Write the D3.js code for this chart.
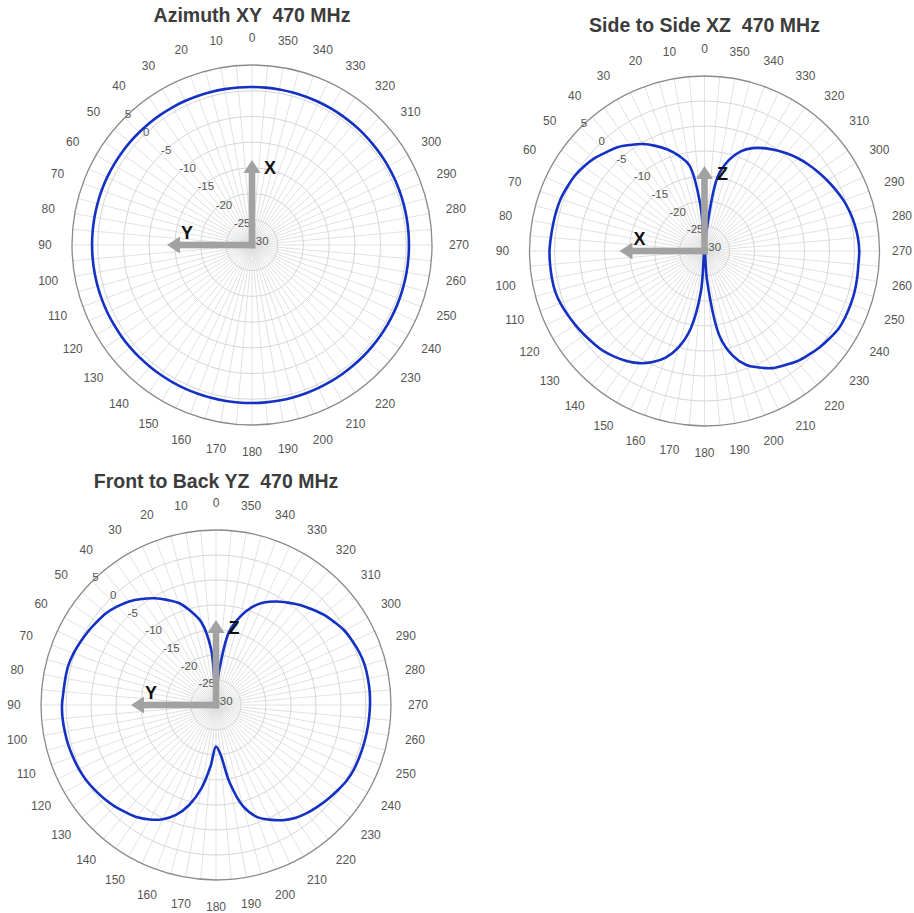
<!DOCTYPE html>
<html>
<head>
<meta charset="utf-8">
<script src="https://cdn.jsdelivr.net/npm/d3@7/dist/d3.min.js"></script>
<style>
  html, body { margin: 0; padding: 0; background: #ffffff; }
  svg { display: block; }
</style>
</head>
<body>
<svg id="chart" width="914" height="913"></svg>
<script>
// Sample directions (degrees, counter-clockwise from the top) of the measured patterns
const sampleAngles = [
  0, 5, 10, 15, 20, 25, 30, 35, 40, 45, 50, 55, 60, 65, 70, 75, 80, 85,
  90, 95, 100, 105, 110, 115, 120, 125, 130, 135, 140, 145, 150, 155, 160, 165, 170, 175,
  180, 185, 190, 195, 200, 205, 210, 215, 220, 225, 230, 235, 240, 245, 250, 255, 260, 265,
  270, 275, 280, 285, 290, 295, 300, 305, 310, 315, 320, 325, 330, 335, 340, 345, 350, 355
];

// Angle tick labels around each plot
const degreeTicks = [
  0, 10, 20, 30, 40, 50, 60, 70, 80, 90, 100, 110, 120, 130, 140, 150, 160, 170,
  180, 190, 200, 210, 220, 230, 240, 250, 260, 270, 280, 290, 300, 310, 320, 330, 340, 350
];

// Gain rings (dBi)
const ringTicks = [-30, -25, -20, -15, -10, -5, 0, 5];

// Gain (dBi) at 470 MHz, one value per sample angle
const azimuthXY = [
  0.72, 0.75, 0.78, 0.82, 0.85, 0.89, 0.92, 0.95, 0.98, 1.00, 1.03, 1.05, 1.07, 1.09, 1.10, 1.10, 1.10, 1.10,
  1.10, 1.09, 1.08, 1.07, 1.05, 1.03, 1.00, 0.98, 0.95, 0.92, 0.88, 0.85, 0.82, 0.80, 0.77, 0.75, 0.74, 0.73,
  0.72, 0.71, 0.70, 0.69, 0.67, 0.66, 0.64, 0.62, 0.60, 0.59, 0.57, 0.56, 0.55, 0.54, 0.53, 0.52, 0.52, 0.52,
  0.52, 0.52, 0.53, 0.54, 0.55, 0.56, 0.57, 0.59, 0.60, 0.62, 0.63, 0.65, 0.66, 0.67, 0.68, 0.69, 0.70, 0.71
];

const sideXZ = [
  -30, -21, -12.6, -10.3, -8.4, -6.8, -5.3, -4.1, -2.9, -2.1, -1.2, -0.55, 0.0, 0.3, 0.6, 0.7, 0.75, 0.85,
  1.0, 1.0, 1.0, 0.95, 0.65, 0.2, -0.25, -0.7, -1.15, -1.6, -2.3, -3.1, -4.1, -5.5, -7.3, -10.1, -14.3, -22,
  -30, -24, -12.8, -8.4, -5.8, -4.3, -2.95, -2.1, -1.2, -0.6, 0.0, 0.5, 1.0, 1.1, 1.12, 1.1, 1.0, 0.9,
  0.95, 0.8, 0.5, 0.1, -0.4, -1.05, -1.7, -2.35, -3.0, -3.7, -4.5, -5.35, -6.25, -7.3, -8.8, -11.2, -15.0, -27
];

const frontYZ = [
  -28, -18.8, -13.2, -10.6, -8.3, -6.8, -5.35, -4.1, -2.95, -2.1, -1.37, -0.95, -0.5, -0.1, 0.3, 0.57, 0.6, 0.62,
  0.8, 0.8, 0.7, 0.6, 0.44, 0.27, 0.02, -0.4, -0.84, -1.35, -1.97, -2.58, -3.56, -4.8, -6.6, -9.3, -13.0, -17.8,
  -21.7, -20.2, -14.2, -9.0, -6.2, -4.7, -3.4, -2.4, -1.75, -1.25, -0.76, -0.28, 0.2, 0.44, 0.5, 0.58, 0.65, 0.72,
  0.8, 0.85, 0.84, 0.8, 0.55, 0.13, -0.3, -1.1, -1.9, -2.9, -3.88, -5.0, -6.1, -7.4, -9.2, -11.85, -15.3, -23.5
];

// Plot placement and the antenna axes drawn in each plot
const panels = [
  { title: "Azimuth XY  470 MHz",       values: azimuthXY, cx: 252,   cy: 245, R: 180, titleY: 21.5, up: "X", left: "Y" },
  { title: "Side to Side XZ  470 MHz",  values: sideXZ,    cx: 704.5, cy: 251, R: 175, titleY: 31.5, up: "Z", left: "X" },
  { title: "Front to Back YZ  470 MHz", values: frontYZ,   cx: 216,   cy: 705, R: 175, titleY: 488,  up: "Z", left: "Y" }
];

const W = 914, H = 913;
const FONT = "'Liberation Sans', Arial, Helvetica, sans-serif";
const svg = d3.select("#chart");
svg.append("rect").attr("width", W).attr("height", H).attr("fill", "#ffffff");

const rad = d => d * Math.PI / 180;
const spokeAngles = d3.range(0, 360, 5);

panels.forEach(p => {
  const r = d3.scaleLinear().domain([ringTicks[0], ringTicks[ringTicks.length - 1]]).range([0, p.R]).clamp(true);
  const g = svg.append("g").attr("transform", `translate(${p.cx},${p.cy})`);

  // radial grid
  g.append("g").selectAll("line").data(spokeAngles).join("line")
    .attr("x1", 0).attr("y1", 0)
    .attr("x2", d => -p.R * Math.sin(rad(d)))
    .attr("y2", d => -p.R * Math.cos(rad(d)))
    .attr("stroke", "#dedede").attr("stroke-width", 0.9);

  // gain rings
  g.append("g").selectAll("circle").data(ringTicks.slice(1, -1)).join("circle")
    .attr("r", d => r(d))
    .attr("fill", "none").attr("stroke", "#d6d6d6").attr("stroke-width", 1);
  g.append("circle").attr("r", r(ringTicks[ringTicks.length - 1]))
    .attr("fill", "none").attr("stroke", "#8a8a8a").attr("stroke-width", 1.3);

  // angle labels (kept inside the page edge)
  const lr = p.R + 27;
  g.append("g").selectAll("text").data(degreeTicks).join("text")
    .attr("x", d => Math.min(-lr * Math.sin(rad(d)), W - 12 - p.cx))
    .attr("y", d => -lr * Math.cos(rad(d)))
    .attr("text-anchor", "middle").attr("dominant-baseline", "central")
    .attr("font-family", FONT).attr("font-size", 12).attr("fill", "#555")
    .text(d => d);

  // gain labels along the 45° ray
  g.append("g").selectAll("text").data(ringTicks).join("text")
    .attr("x", d => -r(d) * Math.SQRT1_2)
    .attr("y", d => -r(d) * Math.SQRT1_2)
    .attr("text-anchor", "start")
    .attr("font-family", FONT).attr("font-size", 11.5).attr("fill", "#555")
    .text(d => d);

  // pattern trace
  const line = d3.lineRadial()
    .angle((d, i) => -rad(sampleAngles[i]))
    .radius(d => r(d))
    .curve(d3.curveCatmullRomClosed.alpha(0.5));
  g.append("path").datum(p.values)
    .attr("d", line)
    .attr("fill", "none").attr("stroke", "#1431c4").attr("stroke-width", 2.6)
    .attr("stroke-linejoin", "round");

  // antenna axes
  const L = 85, head = 13, hw = 8.5, sw = 3.3;
  const ax = g.append("g").attr("fill", "#a2a2a2");
  ax.append("rect").attr("x", -sw).attr("y", -L + head - 1).attr("width", 2 * sw).attr("height", L - head + 1 + sw);
  ax.append("path").attr("d", `M0,${-L} L${hw},${-L + head} L${-hw},${-L + head} Z`);
  ax.append("rect").attr("x", -L + head - 1).attr("y", -sw).attr("width", L - head + 1 + sw).attr("height", 2 * sw);
  ax.append("path").attr("d", `M${-L},0 L${-L + head},${-hw} L${-L + head},${hw} Z`);

  g.append("text").attr("x", 18).attr("y", -77).attr("text-anchor", "middle").attr("dominant-baseline", "central")
    .attr("font-family", FONT).attr("font-weight", "bold").attr("font-size", 18).attr("fill", "#111")
    .text(p.up);
  g.append("text").attr("x", -65).attr("y", -12).attr("text-anchor", "middle").attr("dominant-baseline", "central")
    .attr("font-family", FONT).attr("font-weight", "bold").attr("font-size", 18).attr("fill", "#111")
    .text(p.left);

  // title
  svg.append("text").attr("x", p.cx).attr("y", p.titleY)
    .attr("text-anchor", "middle").attr("xml:space", "preserve").style("white-space", "pre")
    .attr("font-family", FONT).attr("font-weight", "bold").attr("font-size", 19.5).attr("fill", "#3c3c3c")
    .text(p.title);
});
</script>
</body>
</html>
